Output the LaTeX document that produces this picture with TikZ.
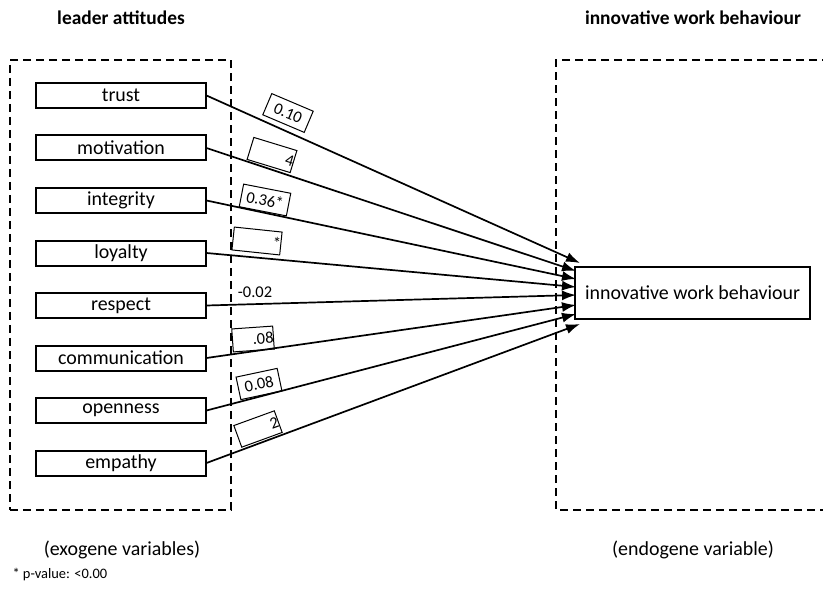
\documentclass[tikz,border=0pt]{standalone}
\usepackage{fontspec}
\setmainfont{Carlito}
\usetikzlibrary{arrows.meta}
\begin{document}
\begin{tikzpicture}[x=1bp,y=-1bp,
  dbox/.style={draw,line width=2.5bp,dash pattern=on 8bp off 5bp},
  vbox/.style={draw,line width=2bp,minimum width=169bp,minimum height=25bp,inner sep=0pt,font=\fontsize{20}{20}\selectfont},
  tbox/.style={draw,line width=2bp,minimum width=235bp,minimum height=52bp,inner sep=0pt,font=\fontsize{20}{20}\selectfont},
  arr/.style={line width=1.7bp,-{Latex[length=14bp,width=10bp]}},
  lab/.style={draw,line width=1bp,minimum height=23bp,inner sep=0pt,text width=#1,font=\fontsize{16.5}{16.5}\selectfont},
  lab/.default=44bp,
  hdr/.style={font=\bfseries\fontsize{19.5}{19.5}\selectfont},
  captxt/.style={font=\fontsize{20}{20}\selectfont}]
\useasboundingbox (0,0) rectangle (823,592);
\fill[white] (0,0) rectangle (823,592);
% headers
\node[hdr] (h1) at (121,18) {leader attitudes};
\node[hdr] (h2) at (693,18) {innovative work behaviour};
% dashed groups
\node[dbox,minimum width=221bp,minimum height=450bp,inner sep=0pt] (g1) at (120.5,285) {};
\draw[dbox] (830,60) -- (556,60) -- (556,510) -- (830,510);
% variables
\node[vbox] (v1) at (121,95.5) {trust};
\node[vbox] (v2) at (121,148) {motivation};
\node[vbox] (v3) at (121,200.5) {integrity};
\node[vbox] (v4) at (121,253) {loyalty};
\node[vbox] (v5) at (121,305.5) {respect};
\node[vbox] (v6) at (121,358) {communication};
\node[vbox] (v7) at (121,410.5) {openness};
\node[vbox] (v8) at (121,463) {empathy};
% target
\node[tbox] (t) at (692.5,293) {innovative work behaviour};
\coordinate (e1) at (580,263);
\coordinate (e2) at (576,271);
\coordinate (e3) at (576,279);
\coordinate (e4) at (576,287);
\coordinate (e5) at (576,295);
\coordinate (e6) at (576,305);
\coordinate (e7) at (576,314);
\coordinate (e8) at (580,324);
\foreach \i in {1,...,8} \draw[arr] (v\i.east) -- (e\i);
% coefficient labels
\node[lab=45bp,align=center,rotate=-23] (l1) at (288,113) {0.10};
\node[lab=45bp,align=right,rotate=-17] (l2) at (272,155) {4\hspace{7bp}};
\node[lab=48bp,align=center,rotate=-11] (l3) at (265,200) {0.36*};
\node[lab=48bp,align=right,rotate=-6] (l4) at (257,241) {*\hspace{9bp}};
\node[font=\fontsize{16.5}{16.5}\selectfont] (l5) at (255,292) {-0.02};
\node[lab=41bp,align=right,rotate=4] (l6) at (253,339) {.08\hspace{4bp}};
\node[lab=42bp,align=center,rotate=12] (l7) at (259,384) {0.08};
\node[lab=43bp,align=right,rotate=20] (l8) at (258,429) {2\hspace{9bp}};
% captions
\node[captxt] (c1) at (122,550) {(exogene variables)};
\node[captxt] (c2) at (693,550) {(endogene variable)};
\node[font=\fontsize{14.5}{14.5}\selectfont,anchor=west] (fn) at (9,575) {* p-value: <0.00};
\end{tikzpicture}
\end{document}
